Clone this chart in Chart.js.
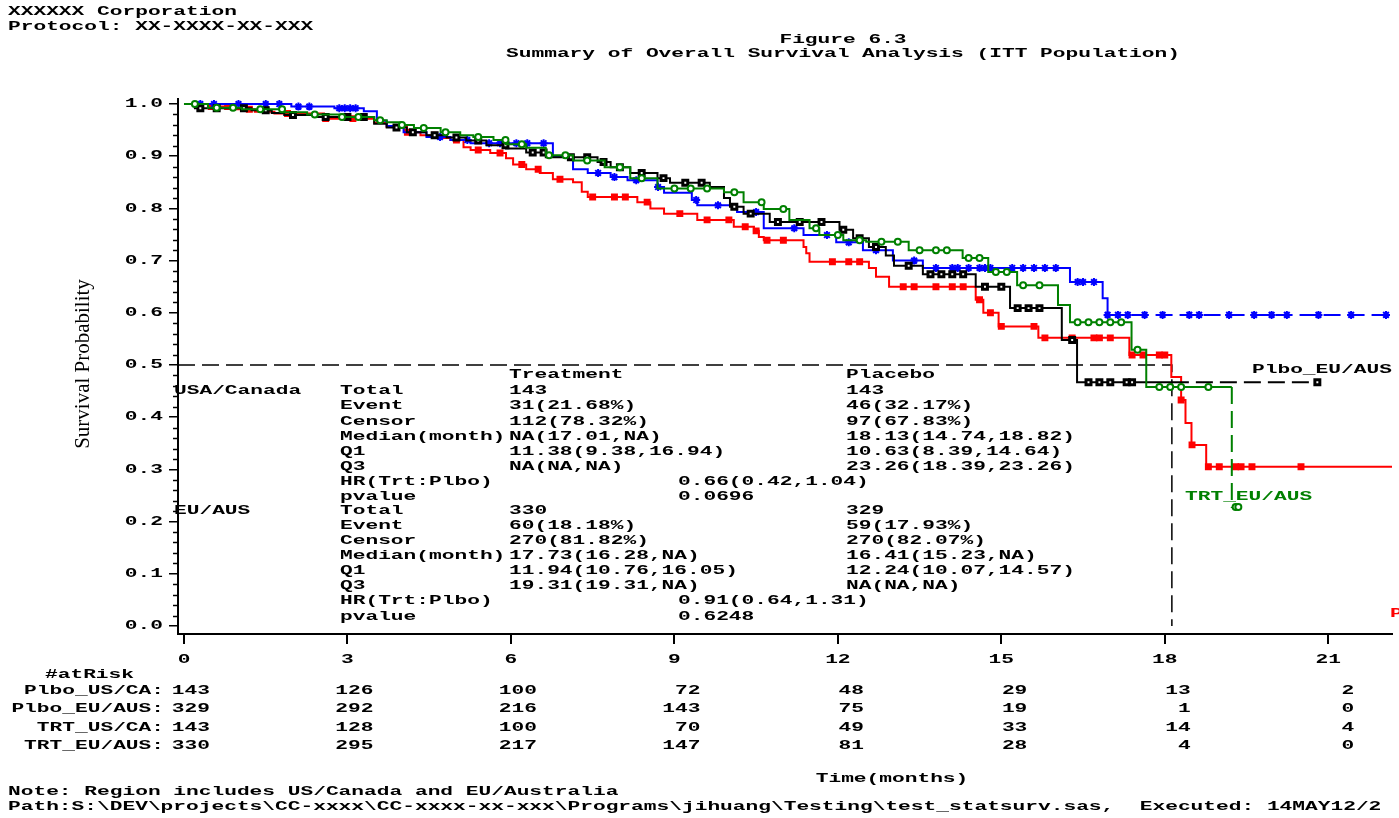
<!DOCTYPE html>
<html lang="en">
<head>
<meta charset="UTF-8">
<title>Figure 6.3 - Summary of Overall Survival Analysis</title>
<script src="https://cdn.jsdelivr.net/npm/chart.js@4.4.0/dist/chart.umd.min.js"></script>
<style>
    body { margin: 0; background: #fff; overflow: hidden; }
    #km { display: block; }
</style>
</head>
<body>
<canvas id="km" width="1399" height="818"></canvas>
<script>
    // Kaplan-Meier steps: month of each drop and the survival after it
    const plboUsTime = [0, 0.44, 0.93, 1.30, 1.66, 2.57, 3.49, 3.72, 4.09, 4.34, 4.71, 4.89, 5.13, 5.26, 5.62, 5.91, 6.04, 6.28, 6.53, 6.77, 7.14, 7.30, 7.41, 8.32, 8.56, 8.81, 9.42, 10.09, 10.46, 10.55, 10.64, 11.37, 11.42, 11.48, 12.57, 12.70, 12.94, 14.53, 14.67, 14.95, 15.68, 17.35, 18.12, 18.30, 18.38, 18.49, 18.76, 23];
    const plboUsSurv = [1, 0.995, 0.99, 0.985, 0.982, 0.972, 0.964, 0.956, 0.946, 0.94, 0.935, 0.931, 0.917, 0.912, 0.906, 0.896, 0.884, 0.875, 0.868, 0.856, 0.85, 0.832, 0.822, 0.812, 0.80, 0.79, 0.778, 0.765, 0.757, 0.745, 0.739, 0.726, 0.714, 0.698, 0.686, 0.669, 0.65, 0.625, 0.60, 0.574, 0.552, 0.519, 0.477, 0.433, 0.389, 0.347, 0.305, 0.305];
    const plboUsCensor = [0.5, 0.8, 1.2, 1.9, 2.6, 3.1, 4.1, 4.6, 5.0, 5.4, 5.8, 6.2, 6.5, 6.9, 7.5, 7.9, 8.1, 8.5, 9.1, 9.6, 10.0, 10.3, 10.5, 10.7, 11.0, 11.9, 12.2, 12.4, 13.2, 13.4, 13.8, 14.1, 14.3, 14.6, 14.8, 15.0, 15.6, 15.8, 16.3, 16.7, 16.8, 17.0, 17.4, 17.6, 17.9, 18.0, 18.3, 18.5, 18.8, 19.0, 19.3, 19.4, 19.6, 20.5];

    const plboEuTime = [0, 0.20, 1.24, 1.61, 1.84, 2.39, 3.49, 3.72, 4.09, 4.45, 4.82, 5.18, 5.55, 5.91, 6.28, 6.64, 7.59, 7.83, 8.19, 8.69, 8.92, 9.65, 9.91, 10.02, 10.27, 10.75, 12.03, 12.28, 12.57, 12.88, 13.03, 13.56, 14.53, 15.16, 16.11, 16.39, 18.13, 20.8];
    const plboEuSurv = [1, 0.992, 0.988, 0.983, 0.979, 0.975, 0.962, 0.955, 0.946, 0.94, 0.936, 0.93, 0.921, 0.915, 0.907, 0.898, 0.889, 0.879, 0.868, 0.858, 0.849, 0.841, 0.82, 0.803, 0.79, 0.774, 0.759, 0.743, 0.726, 0.71, 0.69, 0.674, 0.65, 0.609, 0.548, 0.467, 0.467, 0.467];
    const plboEuCensor = [0.3, 0.6, 1.1, 1.5, 2.0, 2.6, 3.0, 3.3, 3.9, 4.2, 4.6, 5.0, 5.4, 5.9, 6.4, 6.6, 7.1, 7.4, 7.7, 8.0, 8.4, 8.8, 9.2, 9.5, 10.1, 10.4, 10.9, 11.3, 11.7, 12.1, 12.4, 12.7, 13.3, 13.7, 13.9, 14.1, 14.3, 14.7, 15.0, 15.3, 15.5, 15.7, 16.3, 16.6, 16.8, 17.0, 17.3, 17.4, 20.8];

    const trtUsTime = [0, 1.97, 2.76, 3.30, 3.54, 3.72, 4.03, 4.45, 4.89, 5.26, 6.77, 7.14, 7.41, 7.83, 8.14, 8.69, 8.81, 9.32, 9.42, 10.15, 10.64, 11.37, 11.97, 12.46, 13.01, 13.56, 16.26, 16.86, 16.95, 23];
    const trtUsSurv = [1, 0.995, 0.992, 0.986, 0.968, 0.958, 0.946, 0.937, 0.931, 0.925, 0.90, 0.875, 0.868, 0.86, 0.854, 0.841, 0.83, 0.816, 0.806, 0.793, 0.762, 0.749, 0.735, 0.72, 0.70, 0.686, 0.659, 0.628, 0.596, 0.596];
    const trtUsCensor = [0.3, 0.55, 1.0, 1.5, 1.75, 2.1, 2.3, 2.85, 2.95, 3.05, 3.15, 4.7, 5.2, 5.6, 5.8, 6.1, 6.3, 6.6, 7.6, 7.9, 8.3, 8.7, 9.4, 9.8, 10.5, 11.2, 11.8, 12.2, 12.7, 13.4, 13.8, 14.1, 14.2, 14.4, 14.6, 14.7, 14.8, 15.2, 15.4, 15.6, 15.8, 16.0, 16.4, 16.5, 16.7, 16.95, 17.14, 17.32, 17.63, 17.96, 18.45, 18.63, 19.18, 19.64, 19.96, 20.24, 20.82, 21.42, 22.06];

    const trtEuTime = [0, 0.44, 1.06, 1.84, 2.26, 2.88, 3.49, 3.72, 3.98, 4.22, 4.71, 5.07, 5.31, 5.68, 5.91, 6.28, 6.64, 7.14, 7.72, 8.19, 8.69, 9.91, 10.27, 10.64, 11.11, 11.48, 11.66, 12.10, 12.52, 13.30, 14.29, 14.76, 15.29, 16.04, 16.26, 17.39, 17.66, 19.23, 19.23, 19.35];
    const trtEuSurv = [1, 0.993, 0.99, 0.984, 0.98, 0.975, 0.969, 0.965, 0.96, 0.954, 0.946, 0.94, 0.937, 0.931, 0.923, 0.916, 0.902, 0.892, 0.879, 0.858, 0.838, 0.831, 0.812, 0.799, 0.778, 0.762, 0.749, 0.739, 0.736, 0.72, 0.705, 0.678, 0.653, 0.615, 0.582, 0.529, 0.458, 0.458, 0.228, 0.228];
    const trtEuCensor = [0.2, 0.6, 0.9, 1.4, 1.8, 2.4, 2.9, 3.2, 3.6, 4.0, 4.4, 4.8, 5.4, 5.9, 6.2, 6.7, 7.0, 7.4, 8.0, 8.4, 9.0, 9.3, 9.6, 10.1, 10.6, 11.0, 11.6, 12.0, 12.4, 12.8, 13.1, 13.5, 13.8, 14.0, 14.4, 14.6, 14.9, 15.1, 15.4, 15.7, 16.4, 16.6, 16.8, 17.0, 17.2, 17.5, 17.9, 18.1, 18.3, 18.8, 19.3, 19.35];

    // median reference line (dashed)
    const refLineX = [-0.11, 18.13, 18.13];
    const refLineY = [0.5, 0.5, 0];

    const xTickValues = [0, 3, 6, 9, 12, 15, 18, 21];
    const xTickLabels = ['0', '3', '6', '9', '12', '15', '18', '21'];
    const yTickValues = [0, 0.1, 0.2, 0.3, 0.4, 0.5, 0.6, 0.7, 0.8, 0.9, 1.0];
    const yTickLabels = ['0.0', '0.1', '0.2', '0.3', '0.4', '0.5', '0.6', '0.7', '0.8', '0.9', '1.0'];

    // number at risk at each x tick
    const atRiskNames = ['Plbo_US/CA:', 'Plbo_EU/AUS:', 'TRT_US/CA:', 'TRT_EU/AUS:'];
    const atRiskPlboUs = [143, 126, 100, 72, 48, 29, 13, 2];
    const atRiskPlboEu = [329, 292, 216, 143, 75, 19, 1, 0];
    const atRiskTrtUs = [143, 128, 100, 70, 49, 33, 14, 4];
    const atRiskTrtEu = [330, 295, 217, 147, 81, 28, 4, 0];

    // summary table printed inside the plot
    const statNames = ['Total', 'Event', 'Censor', 'Median(month)', 'Q1', 'Q3', 'HR(Trt:Plbo)', 'pvalue'];
    const usTreatment = ['143', '31(21.68%)', '112(78.32%)', 'NA(17.01,NA)', '11.38(9.38,16.94)', 'NA(NA,NA)'];
    const usPlacebo = ['143', '46(32.17%)', '97(67.83%)', '18.13(14.74,18.82)', '10.63(8.39,14.64)', '23.26(18.39,23.26)'];
    const usCompare = ['0.66(0.42,1.04)', '0.0696'];
    const euTreatment = ['330', '60(18.18%)', '270(81.82%)', '17.73(16.28,NA)', '11.94(10.76,16.05)', '19.31(19.31,NA)'];
    const euPlacebo = ['329', '59(17.93%)', '270(82.07%)', '16.41(15.23,NA)', '12.24(10.07,14.57)', 'NA(NA,NA)'];
    const euCompare = ['0.91(0.64,1.31)', '0.6248'];

    const RED = '#ff0000', BLACK = '#000000', BLUE = '#0000ff', GREEN = '#008000';
    const DASH = [17, 7];

    // stretched monospace, like the SAS listing font
    const SX = 1.63;
    const MONO = "bold 13px 'Liberation Mono', 'DejaVu Sans Mono', monospace";

    function put(ctx, s, x, y, align, color) {
        ctx.save();
        ctx.translate(x, y);
        ctx.scale(SX, 1);
        ctx.font = MONO;
        ctx.fillStyle = color || '#000';
        ctx.textAlign = align || 'left';
        ctx.textBaseline = 'middle';
        ctx.fillText(s, 0, 0);
        ctx.restore();
    }

    function survAt(times, surv, t) {
        let s = surv[0];
        for (let i = 0; i < times.length; i++) {
            if (times[i] <= t) s = surv[i];
        }
        return s;
    }

    // stepped 'before' in Chart.js = stay flat, then drop at the event time
    function curve(label, times, surv, color, dashFrom) {
        return {
            type: 'line',
            label: label,
            data: times.map((t, i) => ({x: t, y: surv[i]})),
            borderColor: color,
            borderWidth: 2,
            pointRadius: 0,
            stepped: 'before',
            fill: false,
            segment: {
                borderDash: c => c.p0.parsed.x >= dashFrom ? DASH : undefined
            }
        };
    }

    function censor(label, times, surv, cens, color, style, fillColor, radius, bw) {
        return {
            type: 'scatter',
            label: label + ' censored',
            data: cens.map(t => ({x: t, y: survAt(times, surv, t)})),
            showLine: false,
            pointStyle: style,
            pointRadius: radius,
            pointBorderColor: color,
            pointBackgroundColor: fillColor,
            pointBorderWidth: bw
        };
    }

    const paper = {
        id: 'paper',
        beforeDraw(chart) {
            const ctx = chart.ctx;
            ctx.save();
            ctx.fillStyle = '#fff';
            ctx.fillRect(0, 0, chart.width, chart.height);
            ctx.restore();

            // summary table (under the axis line, as in the listing)
            const rowY = [375, 391, 406, 422, 437, 452, 467, 482, 497, 511, 526, 541, 556, 571, 586, 601, 617];
            put(ctx, 'Treatment', 509, rowY[0]);
            put(ctx, 'Placebo', 846, rowY[0]);
            put(ctx, 'USA/Canada', 174, rowY[1]);
            put(ctx, 'EU/AUS', 174, rowY[9]);
            statNames.forEach((n, i) => {
                put(ctx, n, 340, rowY[1 + i]);
                put(ctx, n, 340, rowY[9 + i]);
            });
            usTreatment.forEach((v, i) => put(ctx, v, 509, rowY[1 + i]));
            usPlacebo.forEach((v, i) => put(ctx, v, 846, rowY[1 + i]));
            usCompare.forEach((v, i) => put(ctx, v, 678, rowY[7 + i]));
            euTreatment.forEach((v, i) => put(ctx, v, 509, rowY[9 + i]));
            euPlacebo.forEach((v, i) => put(ctx, v, 846, rowY[9 + i]));
            euCompare.forEach((v, i) => put(ctx, v, 678, rowY[15 + i]));
        },
        afterDraw(chart) {
            const ctx = chart.ctx;
            const xs = chart.scales.x, ys = chart.scales.y;
            const left = chart.chartArea.left;

            // minor y ticks
            ctx.save();
            ctx.strokeStyle = '#000';
            ctx.lineWidth = 1.5;
            for (let i = 0; i <= 50; i++) {
                if (i % 5 === 0) continue;
                const py = Math.round(ys.getPixelForValue(i / 50)) + 0.5;
                ctx.beginPath();
                ctx.moveTo(left - 5, py);
                ctx.lineTo(left, py);
                ctx.stroke();
            }
            ctx.restore();

            // tick labels
            yTickValues.forEach((v, i) => put(ctx, yTickLabels[i], 163, ys.getPixelForValue(v), 'right'));
            xTickValues.forEach((v, i) => put(ctx, xTickLabels[i], xs.getPixelForValue(v), 660, 'center'));

            // y axis title
            ctx.save();
            ctx.translate(83, 364);
            ctx.rotate(-Math.PI / 2);
            ctx.font = "21px 'Liberation Serif', serif";
            ctx.fillStyle = '#000';
            ctx.textAlign = 'center';
            ctx.textBaseline = 'middle';
            ctx.fillText('Survival Probability', 0, 0);
            ctx.restore();

            // headers
            put(ctx, 'XXXXXX Corporation', 8, 12);
            put(ctx, 'Protocol: XX-XXXX-XX-XXX', 8, 27);
            put(ctx, 'Figure 6.3', 843, 40, 'center');
            put(ctx, 'Summary of Overall Survival Analysis (ITT Population)', 843, 54, 'center');

            // curve labels
            put(ctx, 'Plbo_EU/AUS', 1252, 370);
            put(ctx, 'TRT_EU/AUS', 1185, 497, 'left', GREEN);
            put(ctx, 'Plbo_US/CA', 1390, 614, 'left', RED);

            // number at risk
            put(ctx, '#atRisk', 45, 675);
            const rows = [atRiskPlboUs, atRiskPlboEu, atRiskTrtUs, atRiskTrtEu];
            const rowsY = [691, 709, 728, 746];
            rows.forEach((r, j) => {
                put(ctx, atRiskNames[j], 164, rowsY[j], 'right');
                r.forEach((n, i) => put(ctx, String(n), xs.getPixelForValue(xTickValues[i]) + 26, rowsY[j], 'right'));
            });

            put(ctx, 'Time(months)', 892, 779, 'center');
            put(ctx, 'Note: Region includes US/Canada and EU/Australia', 8, 792);
            put(ctx, 'Path:S:\\DEV\\projects\\CC-xxxx\\CC-xxxx-xx-xxx\\Programs\\jihuang\\Testing\\test_statsurv.sas,  Executed: 14MAY12/2', 8, 807);
        }
    };

    new Chart(document.getElementById('km'), {
        data: {
            datasets: [
                censor('TRT_EU/AUS', trtEuTime, trtEuSurv, trtEuCensor, GREEN, 'circle', '#fff', 3, 2),
                curve('TRT_EU/AUS', trtEuTime, trtEuSurv, GREEN, 19.23),
                censor('Plbo_EU/AUS', plboEuTime, plboEuSurv, plboEuCensor, BLACK, 'rect', '#fff', 3.5, 3),
                curve('Plbo_EU/AUS', plboEuTime, plboEuSurv, BLACK, 18.13),
                censor('TRT_US/CA', trtUsTime, trtUsSurv, trtUsCensor, BLUE, 'star', BLUE, 4, 2),
                curve('TRT_US/CA', trtUsTime, trtUsSurv, BLUE, 16.95),
                censor('Plbo_US/CA', plboUsTime, plboUsSurv, plboUsCensor, RED, 'rect', RED, 3.5, 2),
                curve('Plbo_US/CA', plboUsTime, plboUsSurv, RED, Infinity),
                {
                    type: 'line',
                    label: 'Median',
                    data: refLineX.map((x, i) => ({x: x, y: refLineY[i]})),
                    borderColor: BLACK,
                    borderWidth: 1.5,
                    borderDash: DASH,
                    pointRadius: 0,
                    fill: false
                }
            ]
        },
        options: {
            responsive: false,
            animation: false,
            events: [],
            layout: { padding: { left: 0, right: 0, top: 99, bottom: 0 } },
            plugins: {
                legend: { display: false },
                tooltip: { enabled: false }
            },
            scales: {
                x: {
                    type: 'linear',
                    min: -0.11,
                    max: 22.17,
                    afterBuildTicks: s => { s.ticks = xTickValues.map(v => ({value: v})); },
                    afterFit: s => { s.height = 184; },
                    ticks: { display: false },
                    grid: { display: true, drawOnChartArea: false, drawTicks: true, tickLength: 10, color: '#000', lineWidth: 2 },
                    border: { display: true, color: '#000', width: 2 }
                },
                y: {
                    type: 'linear',
                    min: -0.0153,
                    max: 1.0096,
                    afterBuildTicks: s => { s.ticks = yTickValues.map(v => ({value: v})); },
                    afterFit: s => { s.width = 178; },
                    ticks: { display: false },
                    grid: { display: true, drawOnChartArea: false, drawTicks: true, tickLength: 9, color: '#000', lineWidth: 1.5 },
                    border: { display: true, color: '#000', width: 2 }
                }
            }
        },
        plugins: [paper]
    });
</script>
</body>
</html>
